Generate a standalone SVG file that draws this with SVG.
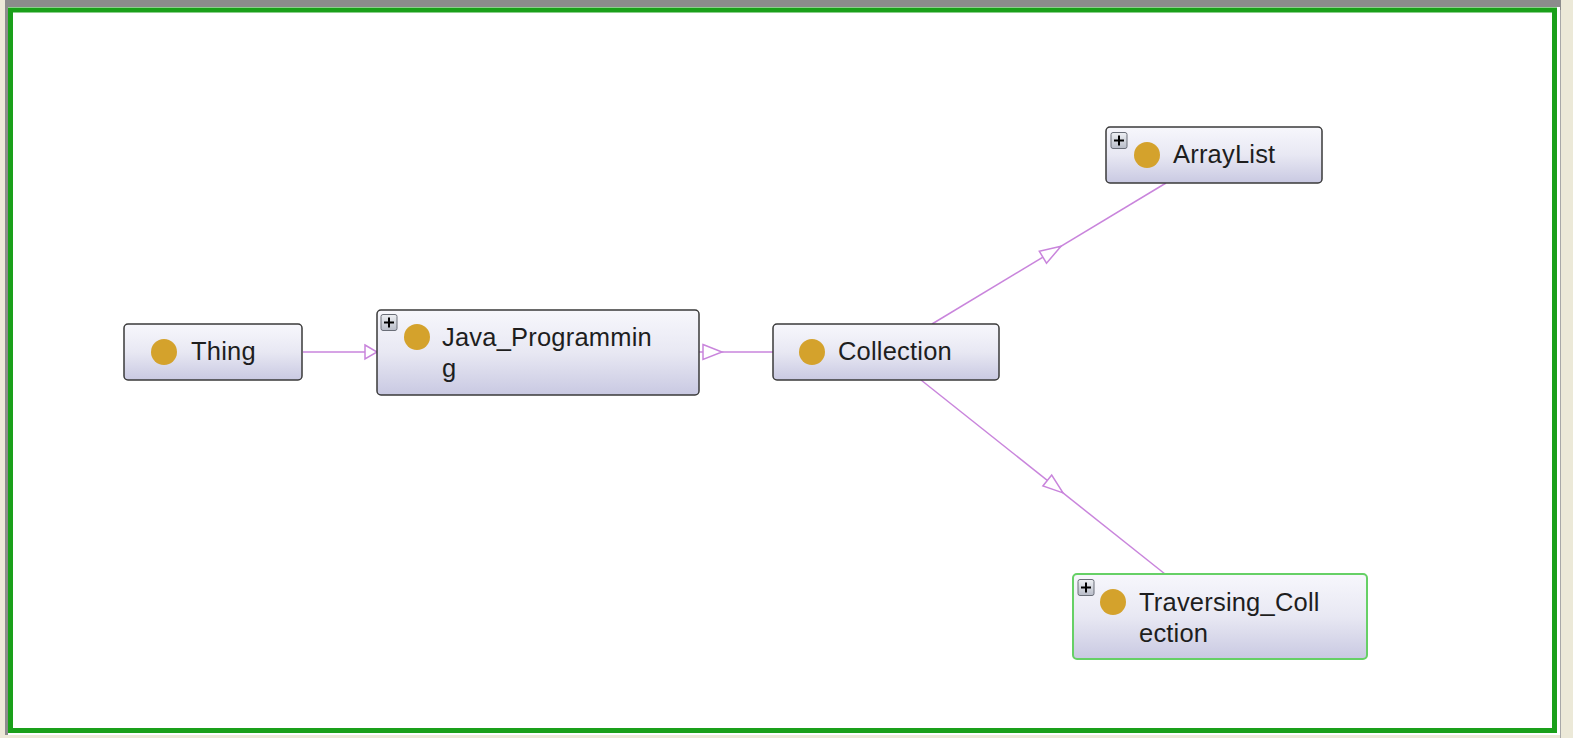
<svg xmlns="http://www.w3.org/2000/svg" width="1573" height="738" viewBox="0 0 1573 738">
<defs>
<linearGradient id="nodeFill" x1="0" y1="0" x2="0" y2="1">
<stop offset="0" stop-color="#f7f7fc"/>
<stop offset="0.5" stop-color="#e8e8f3"/>
<stop offset="1" stop-color="#c9c9e2"/>
</linearGradient>
<linearGradient id="plusFill" x1="0" y1="0" x2="0" y2="1">
<stop offset="0" stop-color="#eef0f4"/>
<stop offset="1" stop-color="#b8bcc8"/>
</linearGradient>
</defs>
<style>
.node{fill:url(#nodeFill);stroke:#3a3a3a;stroke-width:1.5}
.sel{stroke:#66d066;stroke-width:2}
.dot{fill:#d4a22c}
.lbl{font-family:"Liberation Sans",Arial,sans-serif;font-size:25.5px;letter-spacing:0.2px;fill:#1e1e1e}
.edge{stroke:#c985dc;stroke-width:1.5;fill:none}
.head{stroke:#c985dc;stroke-width:1.5;fill:#ffffff}
.plus{fill:url(#plusFill);stroke:#6a6e78;stroke-width:1}
.pl{stroke:#000;stroke-width:2}
</style>
<rect x="0" y="0" width="1573" height="738" fill="#ece9d8"/>
<rect x="5" y="0" width="1556" height="735" fill="#8c8c8c"/>
<rect x="8" y="7" width="1552" height="728" fill="#ffffff"/>
<rect x="10.5" y="10" width="1544" height="720.5" fill="#ffffff" stroke="#1aa01a" stroke-width="5"/>
<line x1="1560.5" y1="10" x2="1560.5" y2="738" stroke="#a8a8a8" stroke-width="1"/>

<g id="connectors">
<line class="edge" x1="303" y1="352" x2="377" y2="352"/>
<polygon class="head" points="365,345 377,352 365,359"/>
<line class="edge" x1="699" y1="352" x2="773" y2="352"/>
<polygon class="head" points="703,344.5 722,352 703,359.5"/>
<line class="edge" x1="932" y1="324" x2="1166" y2="183"/>
<polygon class="head" points="1061,246.3 1046.5,263.2 1039.3,251.2"/>
<line class="edge" x1="921" y1="380" x2="1165" y2="574"/>
<polygon class="head" points="1063,492.9 1042.9,486 1051.7,475"/>
</g>

<g id="node-thing">
<rect class="node" x="124" y="324" width="178" height="56" rx="4"/>
<circle class="dot" cx="164" cy="352" r="13"/>
<text class="lbl" x="191" y="360">Thing</text>
</g>

<g id="node-java">
<rect class="node" x="377" y="310" width="322" height="85" rx="4"/>
<rect class="plus" x="381" y="314.5" width="16" height="16" rx="2"/>
<line class="pl" x1="384" y1="322.5" x2="394" y2="322.5"/>
<line class="pl" x1="389" y1="317.5" x2="389" y2="327.5"/>
<circle class="dot" cx="417" cy="337" r="13"/>
<text class="lbl" x="442" y="346">Java_Programmin</text>
<text class="lbl" x="442" y="377">g</text>
</g>

<g id="node-collection">
<rect class="node" x="773" y="324" width="226" height="56" rx="4"/>
<circle class="dot" cx="812" cy="352" r="13"/>
<text class="lbl" x="838" y="360">Collection</text>
</g>

<g id="node-arraylist">
<rect class="node" x="1106" y="127" width="216" height="56" rx="4"/>
<rect class="plus" x="1111" y="132.5" width="16" height="16" rx="2"/>
<line class="pl" x1="1114" y1="140.5" x2="1124" y2="140.5"/>
<line class="pl" x1="1119" y1="135.5" x2="1119" y2="145.5"/>
<circle class="dot" cx="1147" cy="155" r="13"/>
<text class="lbl" x="1173" y="163">ArrayList</text>
</g>

<g id="node-traversing">
<rect class="node sel" x="1073" y="574" width="294" height="85" rx="4"/>
<rect class="plus" x="1078" y="579.5" width="16" height="16" rx="2"/>
<line class="pl" x1="1081" y1="587.5" x2="1091" y2="587.5"/>
<line class="pl" x1="1086" y1="582.5" x2="1086" y2="592.5"/>
<circle class="dot" cx="1113" cy="602" r="13"/>
<text class="lbl" x="1139" y="611">Traversing_Coll</text>
<text class="lbl" x="1139" y="642">ection</text>
</g>
</svg>
